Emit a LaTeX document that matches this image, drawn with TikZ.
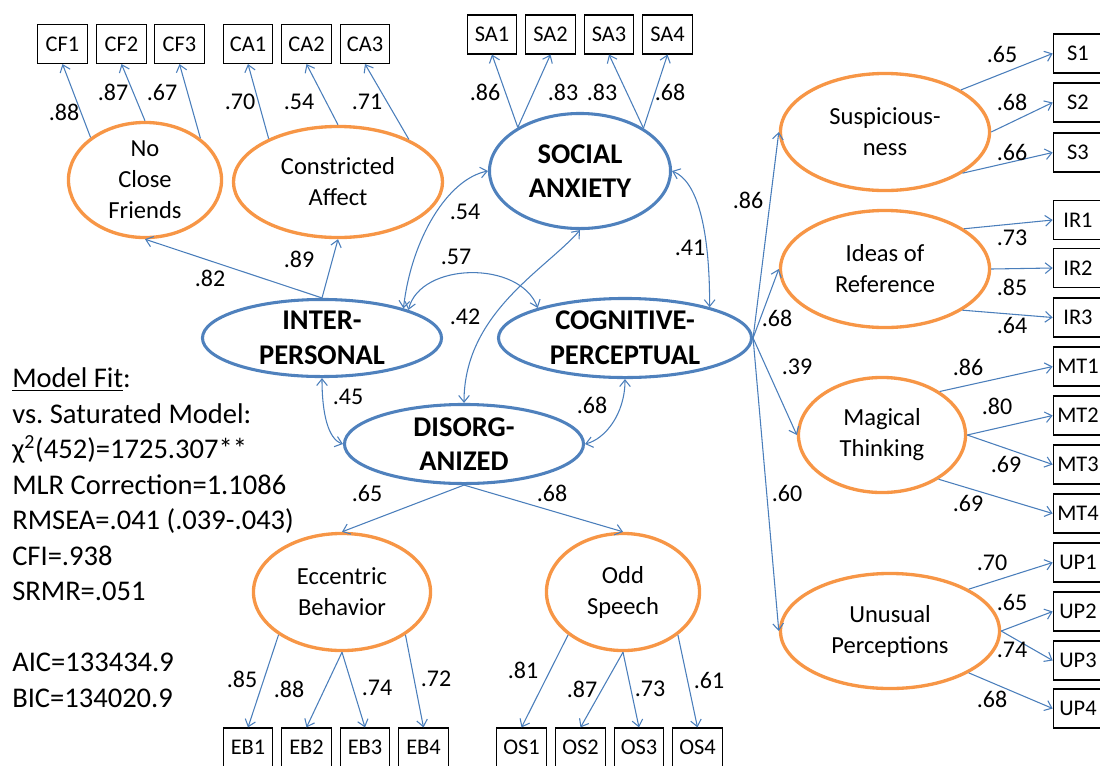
\documentclass[tikz,border=0pt]{standalone}
\usepackage{fontspec}
\setmainfont{Carlito}
\usetikzlibrary{shapes.geometric,arrows.meta}
\definecolor{facorange}{RGB}{247,150,70}
\definecolor{facblue}{RGB}{79,129,189}
\definecolor{pathblue}{RGB}{74,126,187}

\begin{document}
\begin{tikzpicture}[x=0.75pt,y=0.75pt,yscale=-1,xscale=1,
  item/.style={draw,line width=0.9pt,minimum width=37.1pt,minimum height=29.2pt,inner sep=0pt,font=\fontsize{16.8}{20}\selectfont},
  sub/.style={ellipse,draw=facorange,line width=2.5pt,inner xsep=0pt,inner ysep=-12pt,align=center,font=\fontsize{18.4}{23.2}\selectfont},
  main/.style={ellipse,draw=facblue,line width=2.3pt,inner xsep=0pt,inner ysep=-12pt,align=center,font=\bfseries\fontsize{21.4}{26}\selectfont},
  coef/.style={inner sep=0pt,font=\fontsize{18}{20}\selectfont},
  tipb/.tip={Straight Barb[length=5pt,width=8pt]},
  load/.style={draw=pathblue,line width=0.8pt,-tipb},
  corr/.style={draw=pathblue,line width=0.8pt,tipb-tipb}
]
\clip (0,0) rectangle (1100,765);

% indicators
\node[item] (cf1) at (62.5,44) {CF1};
\node[item] (cf2) at (121.5,44) {CF2};
\node[item] (cf3) at (179.5,44) {CF3};
\node[item] (ca1) at (248,44) {CA1};
\node[item] (ca2) at (306.5,44) {CA2};
\node[item] (ca3) at (365,44) {CA3};
\node[item] (sa1) at (492,34.5) {SA1};
\node[item] (sa2) at (550.5,34.5) {SA2};
\node[item] (sa3) at (609,34.5) {SA3};
\node[item] (sa4) at (667.5,34.5) {SA4};
\node[item] (s1) at (1078,53.5) {S1};
\node[item] (s2) at (1078,102.5) {S2};
\node[item] (s3) at (1078,152.5) {S3};
\node[item] (ir1) at (1078,220) {IR1};
\node[item] (ir2) at (1078,268) {IR2};
\node[item] (ir3) at (1078,317.5) {IR3};
\node[item] (mt1) at (1078,366.5) {MT1};
\node[item] (mt2) at (1078,415.5) {MT2};
\node[item] (mt3) at (1078,464.5) {MT3};
\node[item] (mt4) at (1078,513.5) {MT4};
\node[item] (up1) at (1078,562.5) {UP1};
\node[item] (up2) at (1078,611.5) {UP2};
\node[item] (up3) at (1078,660.5) {UP3};
\node[item] (up4) at (1078,708.5) {UP4};
\node[item] (eb1) at (248,747.5) {EB1};
\node[item] (eb2) at (306.5,747.5) {EB2};
\node[item] (eb3) at (365,747.5) {EB3};
\node[item] (eb4) at (423.5,747.5) {EB4};
\node[item] (os1) at (521.5,747.5) {OS1};
\node[item] (os2) at (580.5,747.5) {OS2};
\node[item] (os3) at (639,747.5) {OS3};
\node[item] (os4) at (697.5,747.5) {OS4};

% first-order factors
\node[sub,minimum width=114.8pt,minimum height=86.3pt] (ncf) at (145,180) {No\\Close\\Friends};
\node[sub,minimum width=156.8pt,minimum height=83.3pt] (caf) at (338,182) {Constricted\\Affect};
\node[sub,minimum width=156.8pt,minimum height=87.8pt] (sus) at (885,132) {Suspicious-\\ness};
\node[sub,minimum width=156.8pt,minimum height=87.8pt] (ior) at (885,269) {Ideas of\\Reference};
\node[sub,minimum width=125.3pt,minimum height=86.3pt] (mag) at (882,435) {Magical\\Thinking};
\node[sub,minimum width=164.3pt,minimum height=86.3pt] (unp) at (890,631) {Unusual\\Perceptions};
\node[sub,minimum width=132.8pt,minimum height=87.8pt] (ecb) at (342,592) {Eccentric\\Behavior};
\node[sub,minimum width=114.8pt,minimum height=87.8pt] (ods) at (623,592) {Odd\\Speech};

% second-order factors
\node[main,minimum width=135.8pt,minimum height=86.3pt] (soc) at (580,171) {SOCIAL\\ANXIETY};
\node[main,minimum width=179.3pt,minimum height=57.8pt] (ipl) at (322,338) {INTER-\\PERSONAL};
\node[main,minimum width=189.8pt,minimum height=59.3pt] (cog) at (625,338) {COGNITIVE-\\PERCEPTUAL};
\node[main,minimum width=179.3pt,minimum height=59.3pt] (dis) at (464,444) {DISORG-\\ANIZED};

% loadings
\draw[load] (ncf.142.6) -- (cf1.south);
\draw[load] (ncf.north) -- (cf2.south);
\draw[load] (ncf.37.4) -- (cf3.south);
\draw[load] (caf.148.7) -- (ca1.south);
\draw[load] (caf.north) -- (ca2.south);
\draw[load] (caf.31.6) -- (ca3.south);
\draw[load] (soc.145.5) -- (sa1.south);
\draw[load] (soc.145.5) -- (sa2.south);
\draw[load] (soc.34.1) -- (sa3.south);
\draw[load] (soc.34.1) -- (sa4.south);
\draw[load] (sus.29.2) -- (s1.west);
\draw[load] (sus.east) -- (s2.west);
\draw[load] (sus.-28.7) -- (s3.west);
\draw[load] (ior.27.7) -- (ir1.west);
\draw[load] (ior.east) -- (ir2.west);
\draw[load] (ior.-28.3) -- (ir3.west);
\draw[load] (mag.37.4) -- (mt1.west);
\draw[load] (mag.east) -- (mt2.west);
\draw[load] (mag.east) -- (mt3.west);
\draw[load] (mag.-38) -- (mt4.west);
\draw[load] (unp.28.3) -- (up1.west);
\draw[load] (unp.east) -- (up2.west);
\draw[load] (unp.east) -- (up3.west);
\draw[load] (unp.-28.3) -- (up4.west);
\draw[load] (ecb.214.3) -- (eb1.north);
\draw[load] (ecb.south) -- (eb2.north);
\draw[load] (ecb.south) -- (eb3.north);
\draw[load] (ecb.-34.7) -- (eb4.north);
\draw[load] (ods.218) -- (os1.north);
\draw[load] (ods.south) -- (os2.north);
\draw[load] (ods.south) -- (os3.north);
\draw[load] (ods.-38) -- (os4.north);

% second-order paths
\draw[load] (ipl.north) -- (ncf.south);
\draw[load] (ipl.north) -- (caf.south);
\draw[load] (dis.south) -- (ecb.north);
\draw[load] (dis.south) -- (ods.north);
\draw[load] (cog.east) -- (sus.west);
\draw[load] (cog.east) -- (ior.west);
\draw[load] (cog.east) -- (mag.west);
\draw[load] (cog.east) -- (unp.west);

% correlations
\draw[corr] (ipl.20) .. controls +(8,-70) and +(-40,8) .. (soc.west);
\draw[corr] (ipl.18) .. controls +(12,-48) and +(-18,-48) .. (cog.161);
\draw[corr] (soc.south) .. controls +(-35,40) and +(0,-90) .. (dis.north);
\draw[corr] (soc.east) .. controls +(25,10) and +(0,-80) .. (cog.20.5);
\draw[corr] (ipl.south) .. controls +(0,35) and +(-15,-5) .. (dis.west);
\draw[corr] (cog.south) .. controls +(0,35) and +(20,-5) .. (dis.east);

% coefficients
\node[coef] (k1) at (64,112) {.88};
\node[coef] (k2) at (113,92) {.87};
\node[coef] (k3) at (162,92) {.67};
\node[coef] (k4) at (240,102) {.70};
\node[coef] (k5) at (299,102) {.54};
\node[coef] (k6) at (367,102) {.71};
\node[coef] (k7) at (485,92) {.86};
\node[coef] (k8) at (563,92) {.83};
\node[coef] (k9) at (602,92) {.83};
\node[coef] (k10) at (670,92) {.68};
\node[coef] (k11) at (1002,54) {.65};
\node[coef] (k12) at (1012,102) {.68};
\node[coef] (k13) at (1012,152) {.66};
\node[coef] (k14) at (1012,238) {.73};
\node[coef] (k15) at (1012,287) {.85};
\node[coef] (k16) at (1012,325) {.64};
\node[coef] (k17) at (968,367) {.86};
\node[coef] (k18) at (997,406) {.80};
\node[coef] (k19) at (1006,464) {.69};
\node[coef] (k20) at (968,503) {.69};
\node[coef] (k21) at (992,563) {.70};
\node[coef] (k22) at (1012,602) {.65};
\node[coef] (k23) at (1012,650) {.74};
\node[coef] (k24) at (992,699) {.68};
\node[coef] (k25) at (242,679) {.85};
\node[coef] (k26) at (289,689) {.88};
\node[coef] (k27) at (377,688) {.74};
\node[coef] (k28) at (436,679) {.72};
\node[coef] (k29) at (523,670) {.81};
\node[coef] (k30) at (582,689) {.87};
\node[coef] (k31) at (650,689) {.73};
\node[coef] (k32) at (709,680) {.61};
\node[coef] (k33) at (210,278) {.82};
\node[coef] (k34) at (299,259) {.89};
\node[coef] (k35) at (367,493) {.65};
\node[coef] (k36) at (552,493) {.68};
\node[coef] (k37) at (748,200) {.86};
\node[coef] (k38) at (777,318) {.68};
\node[coef] (k39) at (797,367) {.39};
\node[coef] (k40) at (787,493) {.60};
\node[coef] (k41) at (465,212) {.54};
\node[coef] (k42) at (456,257) {.57};
\node[coef] (k43) at (465,317) {.42};
\node[coef] (k44) at (690,248) {.41};
\node[coef] (k45) at (348,397) {.45};
\node[coef] (k46) at (592,405) {.68};

% fit indices
\node[anchor=base west,inner sep=0pt,align=left,font=\fontsize{21.4}{26.6}\selectfont] (fit) at (12,707)
  {\underline{Model Fit}:\\vs.\ Saturated Model:\\χ\textsuperscript{2}(452)=1725.307**\\MLR Correction=1.1086\\RMSEA=.041 (.039-.043)\\CFI=.938\\SRMR=.051\\[26.6pt]AIC=133434.9\\BIC=134020.9};
\end{tikzpicture}
\end{document}
